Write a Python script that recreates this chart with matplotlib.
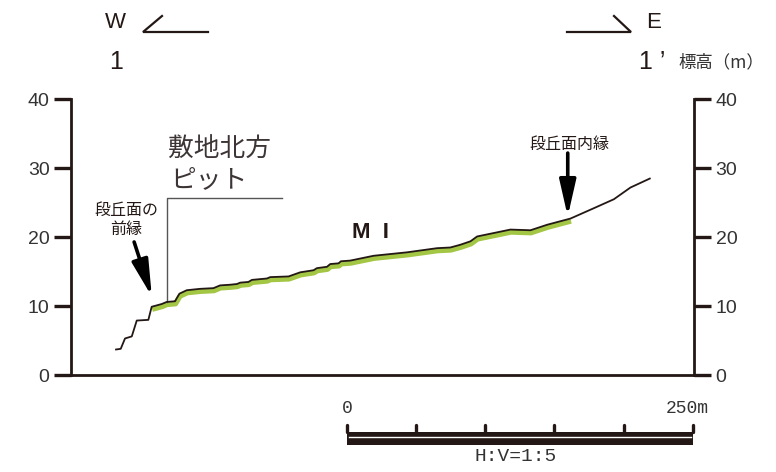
#!/usr/bin/env python3
"""Terrace cross-section 1-1' (W-E) with MI surface marking."""
import matplotlib
matplotlib.use("Agg")
from matplotlib import pyplot as plt
from matplotlib.transforms import offset_copy
from matplotlib.patches import Rectangle

# profile: distance along section (m), elevation (m)
dist = [32.6, 36.0, 39.1, 44.0, 47.6, 56.0, 58.4, 65.7, 69.3, 75.3, 78.5, 83.8,
        93.4, 103.1, 107.9, 115.3, 120.1, 122.5, 128.4, 131.0, 141.8, 144.2,
        157.5, 166.0, 175.6, 178.0, 185.3, 187.7, 193.7, 195.4, 202.2, 219.1,
        243.3, 265.0, 274.6, 281.9, 289.2, 294.0, 306.1, 318.1, 332.6, 344.7,
        361.6, 378.5, 393.0, 405.0, 419.0]
elev = [3.7, 3.8, 5.3, 5.6, 7.9, 8.0, 9.9, 10.3, 10.6, 10.7, 11.8, 12.3,
        12.5, 12.6, 13.0, 13.1, 13.2, 13.4, 13.5, 13.8, 14.0, 14.2,
        14.3, 14.9, 15.2, 15.5, 15.7, 16.1, 16.2, 16.5, 16.6, 17.3,
        17.8, 18.4, 18.5, 18.9, 19.4, 20.1, 20.6, 21.1, 21.0, 21.8,
        22.7, 24.2, 25.5, 27.2, 28.5]

# extent of the MI terrace surface (green)
mi_start, mi_end = 58.4, 361.6

elev_ticks = [0, 10, 20, 30, 40]
scale_ticks = [0, 50, 100, 150, 200, 250]
scale_origin = 200  # where the scale bar starts, in section metres

INK = "#231815"
TXT = "#333333"
GREEN = "#a3c644"
JP = ["Noto Sans CJK JP", "DejaVu Sans"]
NARROW = ["Liberation Sans Narrow", "Liberation Sans", "DejaVu Sans"]
MONO = ["Liberation Mono", "DejaVu Sans Mono"]

W, H = 776, 472
fig = plt.figure(figsize=(W / 100, H / 100), dpi=100)
ax = fig.add_axes((71 / W, 1 - 375 / H, 623 / W, 275.7 / H))
ax.set_xlim(0, 451)
ax.set_ylim(0, 40)

# green terrace band, a couple of pixels under the surface line
mi_x = [d for d in dist if mi_start <= d <= mi_end]
mi_y = [e for d, e in zip(dist, elev) if mi_start <= d <= mi_end]
shifted = offset_copy(ax.transData, fig=fig, x=0.5, y=-2.5, units="dots")
ax.plot(mi_x, mi_y, color=GREEN, lw=3.8, solid_capstyle="butt",
        transform=shifted, zorder=2)
ax.plot(dist, elev, color=INK, lw=1.3, zorder=3)

# axes styling
ax.spines["top"].set_visible(False)
for s in ("left", "right", "bottom"):
    ax.spines[s].set_linewidth(2.0)
    ax.spines[s].set_color(INK)
ax.set_xticks([])
ax.set_yticks(elev_ticks)
ax.tick_params(axis="y", left=True, right=True, labelleft=True, labelright=True,
               direction="out", length=12.5, width=2.4, color=INK, pad=3,
               labelsize=14, labelcolor=TXT)
for lab in ax.get_yticklabels():
    lab.set_fontfamily(NARROW)

# pit bracket
ax.plot([69.3, 69.3, 153], [10.6, 25.7, 25.7], color="#555555", lw=1.0, zorder=2)
ax.text(70.5, 32.7, "敷地北方", family=JP, fontsize=18.5, color="#3d3535",
        va="center", ha="left")
ax.text(71.5, 28.3, "ピット", family=JP, fontsize=18.5, color="#3d3535",
        va="center", ha="left")

# terrace edge annotations
ax.text(40.2, 23.9, "段丘面の", family=JP, fontsize=11.5, color=INK,
        ha="center", va="center")
ax.text(40.2, 21.1, "前縁", family=JP, fontsize=11.5, color=INK,
        ha="center", va="center")
arrow = dict(arrowstyle="-|>,head_length=2.2,head_width=0.5", lw=2.6,
             color="black", mutation_scale=10, shrinkA=0, shrinkB=0)
ax.annotate("", xy=(58.5, 11.4), xytext=(45.7, 19.3), arrowprops=arrow)
ax.text(360.9, 33.5, "段丘面内縁", family=JP, fontsize=11.5, color=INK,
        ha="center", va="center")
ax.annotate("", xy=(359.6, 23.0), xytext=(359.6, 32.2), arrowprops=arrow)

ax.text(216.7, 20.7, "M  I", family=NARROW, fontsize=16, fontweight="bold",
        color=INK, ha="center", va="center")

# scale bar below the axis
x0 = scale_origin + scale_ticks[0]
x1 = scale_origin + scale_ticks[-1]
ax.add_patch(Rectangle((x0, -10.16), x1 - x0, 1.93, facecolor=INK,
                       edgecolor="none", clip_on=False))
ax.plot([x0 + 1, x1 - 1], [-9.0, -9.0], color="white", lw=1.0, clip_on=False)
for t in scale_ticks:
    ax.plot([scale_origin + t] * 2, [-8.3, -7.3], color=INK, lw=2.4,
            solid_capstyle="round", clip_on=False)
ax.text(x0, -4.8, "0", family=MONO, fontsize=13, color=TXT,
        ha="center", va="center", clip_on=False)
ax.text(x1 + 11.6, -4.8, "250m", family=MONO, fontsize=13, color=TXT,
        ha="right", va="center", clip_on=False)
ax.text(321.7, -11.8, "H:V=1:5", family=MONO, fontsize=14, color=TXT,
        ha="center", va="center", clip_on=False)

# section header, figure pixel coordinates
def fx(px):
    return px / W

def fy(py):
    return 1 - py / H

fig.text(fx(115), fy(23), "W", family=NARROW, fontsize=16, color=INK,
         ha="center", va="center")
fig.text(fx(654), fy(23), "E", family=NARROW, fontsize=16, color=INK,
         ha="center", va="center")
fig.text(fx(116), fy(62), "1", family=NARROW, fontsize=18, color=INK,
         ha="center", va="center")
fig.text(fx(652), fy(62), "1 ’", family=NARROW, fontsize=18, color=INK,
         ha="center", va="center")
fig.text(fx(678), fy(62), "標高（m）", family=JP, fontsize=12.5, color=TXT,
         ha="left", va="center")
for xs, ys in (([208, 143, 162], [32, 32, 16]), ([567, 631, 614], [32, 32, 16])):
    fig.add_artist(plt.Line2D([fx(v) for v in xs], [fy(v) for v in ys],
                              color=INK, lw=1.6, solid_joinstyle="miter"))

fig.savefig("out.png", dpi=100)
